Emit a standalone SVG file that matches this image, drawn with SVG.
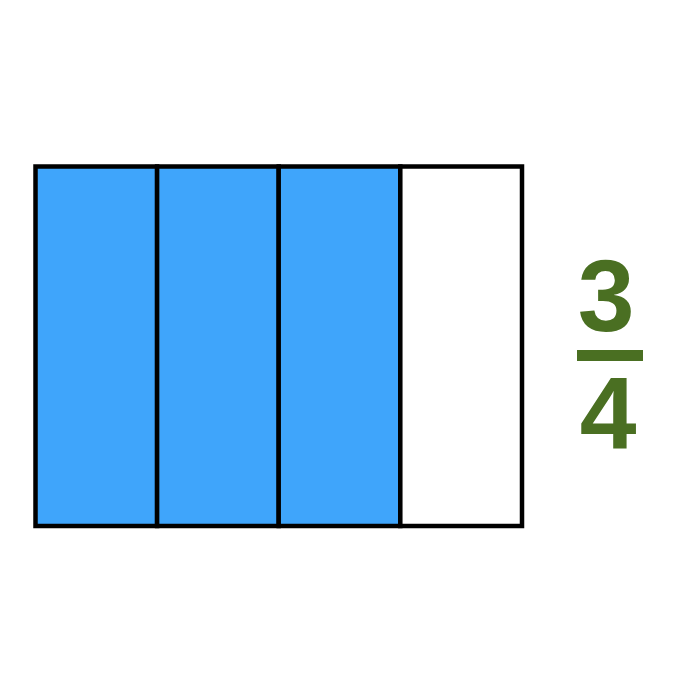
<svg xmlns="http://www.w3.org/2000/svg" width="700" height="700" viewBox="0 0 700 700">
<style>
.part{stroke:#000;stroke-width:4.5}
.fill{fill:#3fa5fb}
.empty{fill:#fff}
.num{font-family:"Liberation Sans",Arial,sans-serif;font-weight:bold;font-size:102px;fill:#4a6f22;text-anchor:middle}
</style>
<rect width="700" height="700" fill="#fff"/>
<g id="bar">
<rect class="part fill" x="35.5" y="166.5" width="121.6" height="359.5"/>
<rect class="part fill" x="157.1" y="166.5" width="121.6" height="359.5"/>
<rect class="part fill" x="278.7" y="166.5" width="121.6" height="359.5"/>
<rect class="part empty" x="400.3" y="166.5" width="121.7" height="359.5"/>
</g>
<g id="fraction">
<text class="num" x="606" y="331">3</text>
<rect x="577" y="350" width="66" height="11" fill="#4a6f22"/>
<text class="num" x="608" y="448">4</text>
</g>
</svg>
